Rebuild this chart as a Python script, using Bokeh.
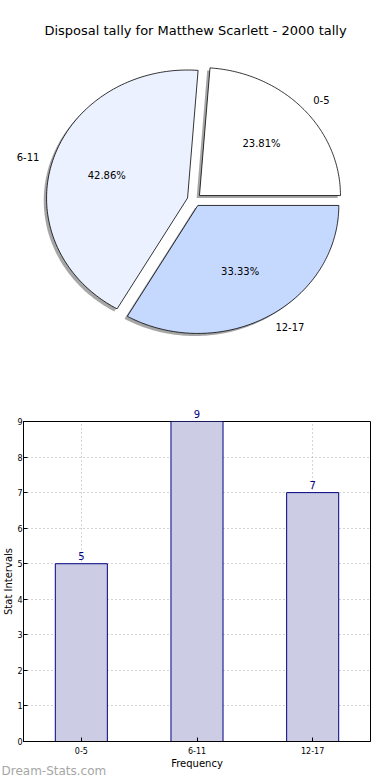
import math
from bokeh.plotting import figure
from bokeh.models import Range1d, ColumnDataSource, FactorRange
from bokeh.embed import file_html
from bokeh.resources import INLINE
from bokeh.core.properties import value

# ---- data ----
categories = ["0-5", "6-11", "12-17"]
counts = [5, 9, 7]
pie_colors = ["#ffffff", "#ebf1ff", "#c5d9ff"]
title_text = "Disposal tally for Matthew Scarlett - 2000 tally"
watermark = "Dream-Stats.com"
y_ticks = [0, 1, 2, 3, 4, 5, 6, 7, 8, 9]

FONT = "DejaVu Sans"
W = 390
H1 = 400
H2 = 380

# ---- pie figure (coordinates in page pixels, y downward) ----
pie = figure(width=W, height=H1, x_range=Range1d(0, W), y_range=Range1d(H1, 0),
             output_backend="svg", toolbar_location=None, min_border=0,
             x_axis_location=None, y_axis_location=None)
pie.grid.visible = False
pie.outline_line_color = None

cx, cy, rx, ry = 193.8, 199.4, 141.0, 128.0
explode = 0.05
total = float(sum(counts))

xs, ys, sxs, sys_ = [], [], [], []
pct_x, pct_y, pct_t = [], [], []
lab_x, lab_y, lab_t, lab_align = [], [], [], []
a0 = 0.0
for cat, c in zip(categories, counts):
    frac = c / total
    a1 = a0 + 360.0 * frac
    mid = math.radians((a0 + a1) / 2)
    ox = cx + explode * rx * math.cos(mid)
    oy = cy - explode * ry * math.sin(mid)
    n = 120
    px = [ox]
    py = [oy]
    for k in range(n + 1):
        t = math.radians(a0 + (a1 - a0) * k / n)
        px.append(ox + rx * math.cos(t))
        py.append(oy - ry * math.sin(t))
    xs.append(px)
    ys.append(py)
    sxs.append([v - 0.02 * rx for v in px])
    sys_.append([v + 0.02 * ry for v in py])
    pct_x.append(ox + 0.6 * rx * math.cos(mid))
    pct_y.append(oy - 0.6 * ry * math.sin(mid))
    pct_t.append("%.2f%%" % (100 * frac))
    lab_x.append(ox + 1.1 * rx * math.cos(mid))
    lab_y.append(oy - 1.1 * ry * math.sin(mid))
    lab_t.append(cat)
    lab_align.append("left" if math.cos(mid) > 0 else "right")
    a0 = a1

pie.patches(sxs, sys_, fill_color="#4d4d4d", fill_alpha=0.5, line_color=None)
pie.patches(xs, ys, fill_color=pie_colors, line_color="black", line_width=0.8)
pie.text(pct_x, pct_y, text=pct_t, text_align="center", text_baseline="middle",
         text_font=value(FONT), text_font_size="10px", text_color="black")
pie.text(lab_x, lab_y, text=lab_t, text_align=lab_align, text_baseline="middle",
         text_font=value(FONT), text_font_size="10px", text_color="black")
pie.text([195], [30], text=[title_text], text_align="center", text_baseline="middle",
         text_font=value(FONT), text_font_size="13px", text_color="black")

# ---- bar figure ----
bar = figure(width=W, height=H2, x_range=FactorRange(*categories), y_range=Range1d(0, 9),
             output_backend="svg", toolbar_location=None,
             min_border_left=0, min_border_right=20, min_border_top=21, min_border_bottom=39)
src = ColumnDataSource(dict(cat=categories, count=counts, lbl=[str(c) for c in counts]))
bar.vbar(x="cat", top="count", width=0.45, source=src, fill_color="#ccccE5",
         line_color="#000080", line_width=1)
bar.text(x="cat", y="count", text="lbl", source=src, y_offset=-4,
         text_align="center", text_baseline="bottom", text_color="#000080",
         text_font=value(FONT), text_font_size="10px", level="overlay")
bar.outline_line_color = "black"
bar.outline_line_width = 1
for g in (bar.xgrid, bar.ygrid):
    g.grid_line_color = "#a8a8a8"
    g.grid_line_dash = "1 3"
    g.grid_line_width = 1
bar.yaxis.ticker = y_ticks
bar.yaxis.axis_label = "Stat Intervals"
bar.xaxis.axis_label = "Frequency"
for ax in (bar.xaxis, bar.yaxis):
    ax.axis_line_color = "black"
    ax.major_tick_in = 4
    ax.major_tick_out = 0
    ax.minor_tick_in = 0
    ax.minor_tick_out = 0
    ax.major_tick_line_color = "black"
    ax.major_label_text_font = FONT
    ax.major_label_text_font_size = "8px"
    ax.major_label_text_color = "black"
    ax.axis_label_text_font = FONT
    ax.axis_label_text_font_size = "10px"
    ax.axis_label_text_font_style = "normal"
    ax.axis_label_text_color = "black"
    ax.major_label_standoff = 1
    ax.axis_label_standoff = 0
bar.xaxis.major_label_standoff = 5
bar.xaxis.axis_label_standoff = 1
bar.text(x=[0], y=[0], text=[watermark], x_offset=-22, y_offset=29,
         text_align="left", text_baseline="middle", text_color="#a6a6a6",
         text_font=value(FONT), text_font_size="12px", level="overlay")

open("out.html", "w").write(file_html([pie, bar], INLINE))
